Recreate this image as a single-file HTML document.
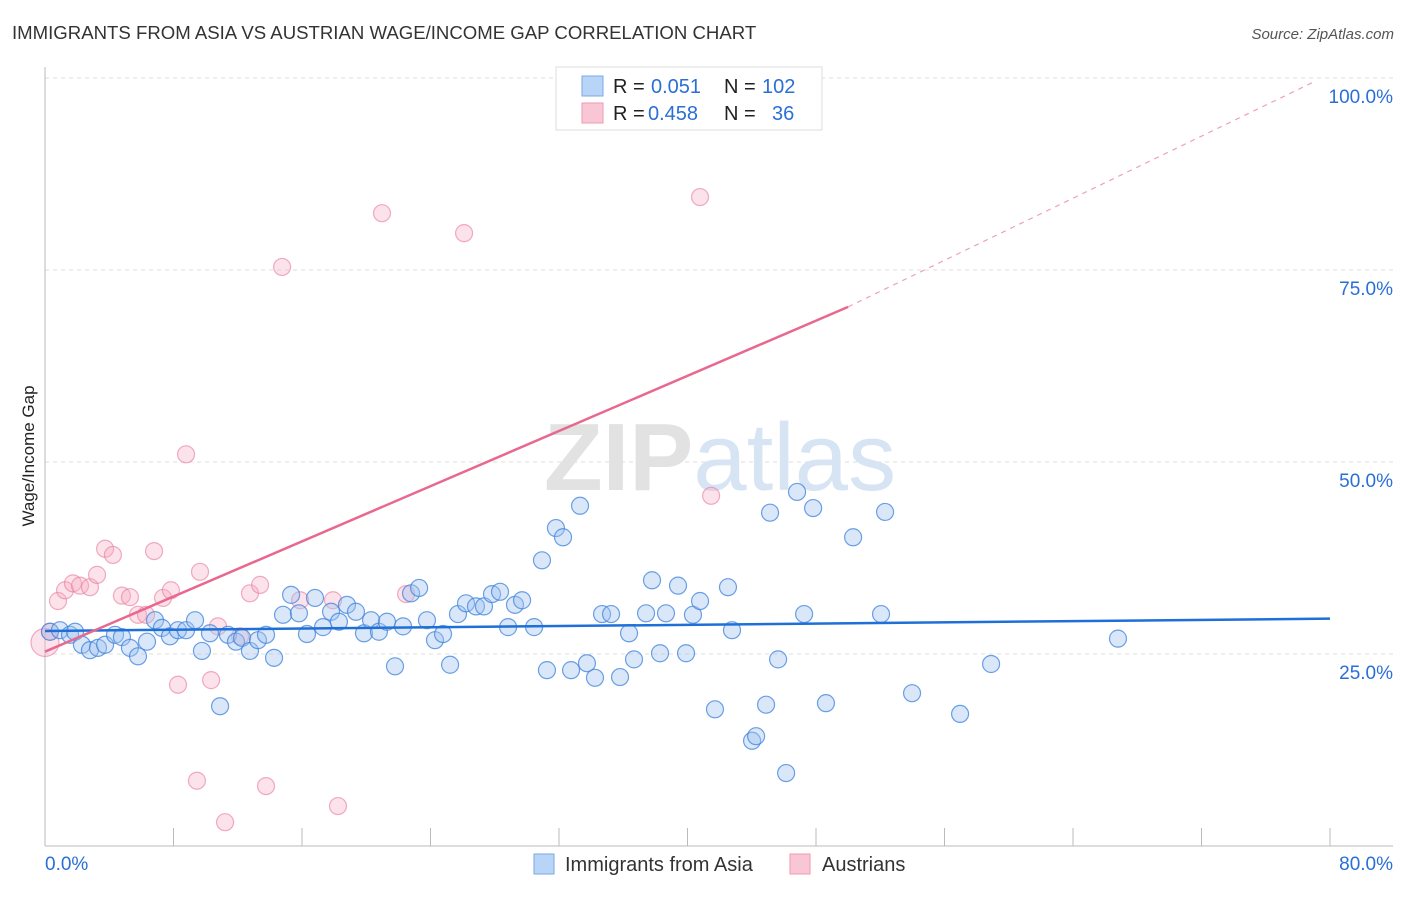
<!DOCTYPE html>
<html><head><meta charset="utf-8">
<style>
body{margin:0;background:#fff;font-family:"Liberation Sans",sans-serif;}
svg text{font-family:"Liberation Sans",sans-serif;}
</style></head>
<body>
<svg id="chart" width="1406" height="892" viewBox="0 0 1406 892" xmlns="http://www.w3.org/2000/svg">
<text x="12" y="39" font-size="18.6" fill="#333">IMMIGRANTS FROM ASIA VS AUSTRIAN WAGE/INCOME GAP CORRELATION CHART</text>
<text x="1394" y="39" font-size="15" fill="#555" font-style="italic" text-anchor="end">Source: ZipAtlas.com</text>
<g id="grid"></g>
<text x="720" y="490" font-size="96" fill="#e6e6e6" text-anchor="middle" font-family="Liberation Serif"><tspan font-weight="bold" fill="#e2e2e2">ZIP</tspan><tspan fill="#d7e4f4" font-family="Liberation Sans">atlas</tspan></text>
<text transform="translate(34,456) rotate(-90)" font-size="17" fill="#222" text-anchor="middle">Wage/Income Gap</text>
<g id="points"></g>
<g id="lines"></g>
<g>
<rect x="556" y="67" width="266" height="63" fill="#fff" stroke="#ddd"/>
<rect x="582" y="76" width="21" height="20" fill="#b8d4f6" stroke="#7aaae6"/>
<rect x="582" y="103" width="21" height="20" fill="#f9c6d5" stroke="#ee9ab4"/>
<text x="613" y="93" font-size="20" fill="#222">R = </text><text x="651" y="93" font-size="20" fill="#2a6fd6">0.051</text>
<text x="724" y="93" font-size="20" fill="#222">N = </text><text x="762" y="93" font-size="20" fill="#2a6fd6">102</text>
<text x="613" y="120" font-size="20" fill="#222">R = </text><text x="648" y="120" font-size="20" fill="#2a6fd6">0.458</text>
<text x="724" y="120" font-size="20" fill="#222">N = </text><text x="772" y="120" font-size="20" fill="#2a6fd6">36</text>
</g>
<g>
<rect x="534" y="854" width="20" height="20" fill="#b8d4f6" stroke="#7aaae6"/>
<text x="565" y="871" font-size="20" fill="#333">Immigrants from Asia</text>
<rect x="790" y="854" width="20" height="20" fill="#f9c6d5" stroke="#ee9ab4"/>
<text x="822" y="871" font-size="20" fill="#333">Austrians</text>
</g>
</svg>
<script>
const xTicksPct=[0,8,16,24,32,40,48,56,64,72,80];
const yTicks=[25,50,75,100];
const yTickLabels=["25.0%","50.0%","75.0%","100.0%"];
const xEndLabels=["0.0%","80.0%"];
const asiaX=[0.31,0.93,1.56,1.87,2.30,2.80,3.30,3.74,4.36,4.79,5.29,5.79,6.35,6.85,7.28,7.78,8.28,8.78,9.34,9.77,10.27,10.90,11.39,11.89,12.27,12.76,13.26,13.76,14.26,14.82,15.32,15.81,16.31,16.81,17.31,17.81,18.30,18.80,19.36,19.86,20.30,20.79,21.29,21.79,22.29,22.79,23.29,23.78,24.28,24.78,25.22,25.71,26.21,26.83,27.33,27.83,28.33,28.83,29.26,29.70,30.45,30.94,31.25,31.81,32.25,32.75,33.31,33.74,34.24,34.68,35.24,35.80,36.36,36.67,37.42,37.79,38.29,38.66,39.41,39.91,40.34,40.78,41.71,42.52,42.77,44.02,44.27,44.89,45.14,45.64,46.14,46.82,47.26,47.82,48.62,50.31,52.05,52.30,53.98,56.97,58.90,66.80];
const asiaY=[27.9,28.1,27.5,27.9,26.2,25.5,25.8,26.2,27.5,27.2,25.8,24.7,26.6,29.4,28.4,27.3,28.1,28.1,29.4,25.4,27.7,18.2,27.5,26.6,27.1,25.4,26.8,27.5,24.5,30.1,32.7,30.3,27.6,32.3,28.5,30.5,29.2,31.4,30.5,27.7,29.4,27.9,29.2,23.4,28.6,32.9,33.6,29.4,26.8,27.6,23.6,30.2,31.6,31.2,31.2,32.8,33.1,28.5,31.4,32.0,28.5,37.2,22.9,41.4,40.2,22.9,44.3,23.8,21.9,30.2,30.2,22.0,27.7,24.3,30.3,34.6,25.1,30.3,33.9,25.1,30.1,31.9,17.8,33.7,28.1,13.7,14.3,18.4,43.4,24.3,9.5,46.1,30.2,44.0,18.6,40.2,30.2,43.5,19.9,17.2,23.7,27.0];
const austX=[0.0,0.31,0.81,1.25,1.74,2.18,2.80,3.24,3.74,4.23,4.79,5.29,5.79,6.29,6.79,7.35,7.84,8.28,8.78,9.65,10.34,10.77,11.21,12.14,12.76,13.39,13.76,14.76,15.88,17.93,18.24,20.98,22.48,26.09,40.78,41.47,9.46];
const austY=[26.5,27.9,31.9,33.3,34.2,33.9,33.7,35.3,38.7,37.9,32.6,32.4,30.1,30.1,38.4,32.3,33.3,21.0,51.0,35.7,21.6,28.6,3.1,27.3,32.9,34.0,7.8,75.4,32.0,32.0,5.2,82.4,32.8,79.8,84.5,45.6,8.5];
const asiaTrend=[28.0,29.6];
const austTrend=[25.3,70.2,50];
const austDashEnd=[79,99.5];

const NS="http://www.w3.org/2000/svg";
const X=v=>45+v/80*1285;
const Y=v=>846-v/100*768;
function mk(tag,attrs,parent){const e=document.createElementNS(NS,tag);for(const k in attrs)e.setAttribute(k,attrs[k]);parent.appendChild(e);return e;}
const grid=document.getElementById('grid');
yTicks.forEach((t,i)=>{
  const l=mk('line',{x1:45,x2:1393,y1:Y(t),y2:Y(t),stroke:'#ddd','stroke-dasharray':'4,4'},grid);
  
  
  const tx=mk('text',{x:1393,y:Y(t)+25,'font-size':19,fill:'#2a6fd6','text-anchor':'end'},grid);
  tx.textContent=yTickLabels[i];
  
  
});
const ax=mk('line',{x1:45,x2:45,y1:67,y2:846,stroke:'#bbb'},grid);


const bx=mk('line',{x1:45,x2:1393,y1:846,y2:846,stroke:'#bbb'},grid);


xTicksPct.forEach(t=>{
  const l=mk('line',{x1:X(t),x2:X(t),y1:828,y2:846,stroke:'#bbb'},grid);
  
  
});
[[0,'start'],[80,'end']].forEach((p,i)=>{
  const t=mk('text',{x:i?1393:45,y:870,'font-size':19,fill:'#2a6fd6','text-anchor':p[1]},grid);
  t.textContent=xEndLabels[i];
  
  
});
const pts=document.getElementById('points');
austX.forEach((v,i)=>{
  const c=mk('circle',{cx:X(v),cy:Y(austY[i]),r:i===0?14:8.5,fill:'rgba(246,172,196,0.35)',stroke:'rgba(232,120,155,0.6)','stroke-width':1.2},pts);
  
  
});
asiaX.forEach((v,i)=>{
  const c=mk('circle',{cx:X(v),cy:Y(asiaY[i]),r:8.5,fill:'rgba(160,196,240,0.4)',stroke:'rgba(60,130,220,0.75)','stroke-width':1.2},pts);
  
  
});
const ln=document.getElementById('lines');
const a=mk('line',{x1:X(0),y1:Y(asiaTrend[0]),x2:X(80),y2:Y(asiaTrend[1]),stroke:'#1f6fd8','stroke-width':2.5},ln);


const b=mk('line',{x1:X(0),y1:Y(austTrend[0]),x2:X(austTrend[2]),y2:Y(austTrend[1]),stroke:'#e8688f','stroke-width':2.5},ln);


const d=mk('line',{x1:X(austTrend[2]),y1:Y(austTrend[1]),x2:X(austDashEnd[0]),y2:Y(austDashEnd[1]),stroke:'#eea0b8','stroke-width':1.2,'stroke-dasharray':'5,5'},ln);


</script>
</body></html>
